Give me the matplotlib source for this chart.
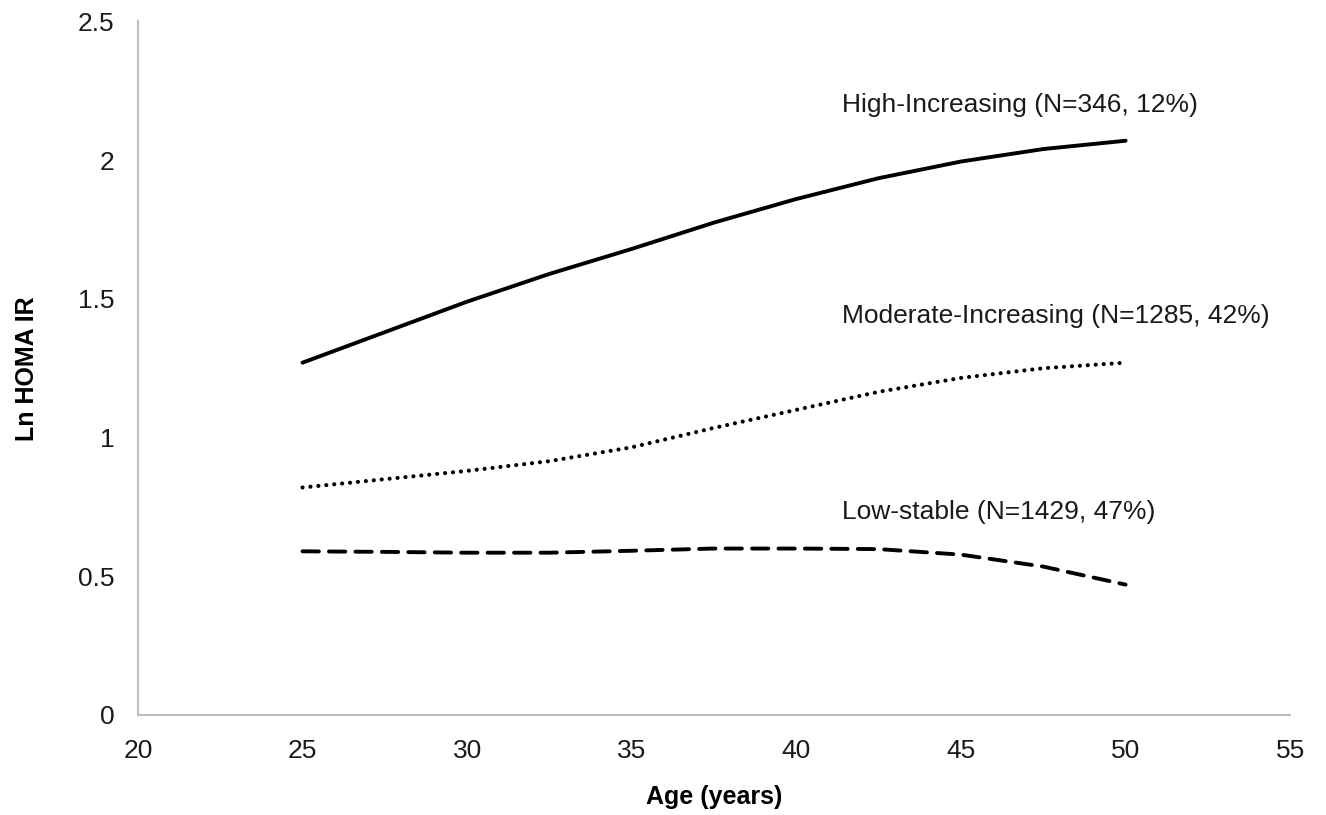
import matplotlib
matplotlib.use("Agg")
import matplotlib.pyplot as plt

plt.rcParams['font.family'] = ['Liberation Sans', 'DejaVu Sans']

# trajectory estimates
ages = [25, 27.5, 30, 32.5, 35, 37.5, 40, 42.5, 45, 47.5, 50]
high_inc = [1.27, 1.38, 1.49, 1.59, 1.68, 1.775, 1.86, 1.935, 1.995, 2.04, 2.07]
mod_inc = [0.82, 0.85, 0.88, 0.915, 0.965, 1.035, 1.10, 1.165, 1.215, 1.25, 1.27]
low_stable = [0.59, 0.588, 0.585, 0.585, 0.592, 0.60, 0.60, 0.598, 0.578, 0.535, 0.47]

labels = ['High-Increasing (N=346, 12%)',
          'Moderate-Increasing (N=1285, 42%)',
          'Low-stable (N=1429, 47%)']
label_x = 41.4
label_y = [2.20, 1.44, 0.73]

xticks = [20, 25, 30, 35, 40, 45, 50, 55]
yticks = [0, 0.5, 1, 1.5, 2, 2.5]
ytick_labels = ['0', '0.5', '1', '1.5', '2', '2.5']

fig = plt.figure(figsize=(13.26, 8.15), dpi=100)
ax = fig.add_axes([0.104, 0.1227, 0.869, 0.851])

ax.plot(ages, high_inc, color='black', lw=2.8, solid_capstyle='round')
ax.plot(ages, mod_inc, color='black', lw=3.0, linestyle=(0, (0.01, 1.9)),
        dash_capstyle='round')
ax.plot(ages, low_stable, color='black', lw=2.8, linestyle=(0, (4.2, 2.6)),
        dash_capstyle='round')

for txt, ty in zip(labels, label_y):
    ax.text(label_x, ty, txt, fontsize=19, color='#1a1a1a', va='center', ha='left')

ax.set_xlim(20, 55)
ax.set_ylim(0, 2.5)
ax.set_xticks(xticks)
ax.set_yticks(yticks)
ax.set_yticklabels(ytick_labels)
ax.tick_params(axis='both', length=0, labelsize=19, colors='#1a1a1a')
ax.tick_params(axis='x', pad=17)
ax.tick_params(axis='y', pad=17)

for side in ['top', 'right']:
    ax.spines[side].set_visible(False)
for side in ['left', 'bottom']:
    ax.spines[side].set_color('#bfbfbf')
    ax.spines[side].set_linewidth(1.5)

ax.set_xlabel('Age (years)', fontsize=18, fontweight='bold', labelpad=16)
ax.set_ylabel('Ln HOMA IR', fontsize=18, fontweight='bold', labelpad=28)

fig.savefig('out.png', dpi=100)
